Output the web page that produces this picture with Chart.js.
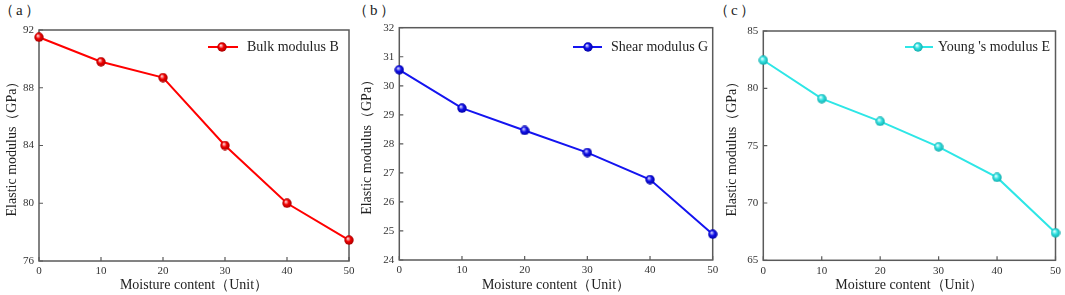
<!DOCTYPE html>
<html>
<head>
<meta charset="utf-8">
<script src="https://cdn.jsdelivr.net/npm/chart.js@4/dist/chart.umd.min.js"></script>
<style>
  body { margin: 0; background: #fff; width: 1065px; height: 295px; overflow: hidden; position: relative; font-family: "Liberation Serif", "Times New Roman", serif; }
  canvas { position: absolute; top: 0; }
  .tag { position: absolute; top: 1px; font-size: 15px; line-height: 18px; color: #222; letter-spacing: 2px; }
</style>
</head>
<body>
<div class="tag" style="left:-1px">（a）</div>
<div class="tag" style="left:353px">（b）</div>
<div class="tag" style="left:714px">（c）</div>
<canvas id="chartA" width="360" height="295" style="left:0px"></canvas>
<canvas id="chartB" width="368" height="295" style="left:355px"></canvas>
<canvas id="chartC" width="345" height="295" style="left:720px"></canvas>
<script>
// Data
const moisture = [0, 10, 20, 30, 40, 50];
const bulkB = [91.5, 89.8, 88.7, 84.0, 80.0, 77.45];
const shearG = [30.55, 29.23, 28.46, 27.7, 26.77, 24.89];
const youngE = [82.45, 79.1, 77.12, 74.9, 72.23, 67.4];

const xTitle = "Moisture content（Unit）";
const yTitle = "Elastic modulus（GPa）";

const SERIF = "'Liberation Serif', 'Times New Roman', serif";
const AXIS = "#5a5a5a";

// shaded ball used for markers
const sphere = (light, base, dark) => {
  const c = document.createElement("canvas");
  c.width = 10;
  c.height = 10;
  const g = c.getContext("2d");
  const grad = g.createRadialGradient(3.8, 3.4, 0.4, 5, 5, 5);
  grad.addColorStop(0, light);
  grad.addColorStop(0.45, base);
  grad.addColorStop(1, dark);
  g.fillStyle = grad;
  g.beginPath();
  g.arc(5, 5, 4.7, 0, Math.PI * 2);
  g.fill();
  return c;
};

// box around the plot, inward ticks, and the little legend
const framePlugin = {
  id: "frame",
  beforeDatasetsDraw(chart) {
    const { ctx, chartArea: a, scales } = chart;
    ctx.save();
    ctx.strokeStyle = AXIS;
    ctx.lineWidth = 1.5;
    ctx.strokeRect(a.left, a.top, a.right - a.left, a.bottom - a.top);
    ctx.lineWidth = 1.2;
    ctx.beginPath();
    scales.x.ticks.forEach((t) => {
      const px = scales.x.getPixelForValue(t.value);
      ctx.moveTo(px, a.bottom);
      ctx.lineTo(px, a.bottom - 4);
    });
    scales.y.ticks.forEach((t) => {
      const py = scales.y.getPixelForValue(t.value);
      ctx.moveTo(a.left, py);
      ctx.lineTo(a.left + 4, py);
    });
    ctx.stroke();
    ctx.restore();
  },
  afterDraw(chart, args, opts) {
    const ds = chart.data.datasets[0];
    const { ctx } = chart;
    ctx.save();
    ctx.strokeStyle = ds.borderColor;
    ctx.lineWidth = 2;
    ctx.beginPath();
    ctx.moveTo(opts.x0, opts.y);
    ctx.lineTo(opts.x1, opts.y);
    ctx.stroke();
    const img = ds.pointStyle;
    ctx.drawImage(img, opts.mx - img.width / 2, opts.y - img.height / 2);
    ctx.fillStyle = "#222";
    ctx.font = "14px " + SERIF;
    ctx.textBaseline = "middle";
    ctx.textAlign = "left";
    ctx.fillText(ds.label, opts.tx, opts.y);
    ctx.restore();
  },
};

const makePanel = (id, label, values, color, marker, yMin, yMax, yStep, geo) => {
  const ctx = document.getElementById(id).getContext("2d");
  new Chart(ctx, {
    type: "line",
    data: {
      datasets: [
        {
          label: label,
          data: moisture.map((m, i) => ({ x: m, y: values[i] })),
          borderColor: color,
          borderWidth: 2,
          tension: 0,
          pointStyle: marker,
          pointRadius: 5,
          pointHoverRadius: 5,
          clip: false,
        },
      ],
    },
    options: {
      responsive: false,
      animation: false,
      events: [],
      layout: { padding: { left: 0, top: geo.top, right: geo.padR, bottom: 0 } },
      plugins: {
        legend: { display: false },
        tooltip: { enabled: false },
        frame: geo.key,
      },
      scales: {
        x: {
          type: "linear",
          min: 0,
          max: 50,
          grid: { display: false, drawTicks: false },
          border: { display: false },
          ticks: { stepSize: 10, padding: 4, color: "#333", font: { family: SERIF, size: 11 } },
          title: {
            display: true,
            text: xTitle,
            color: "#222",
            font: { family: SERIF, size: 14 },
            padding: { top: 0, bottom: 1 },
          },
          afterFit: (s) => { s.height = 295 - geo.bottom; },
        },
        y: {
          min: yMin,
          max: yMax,
          grid: { display: false, drawTicks: false },
          border: { display: false },
          ticks: { stepSize: yStep, padding: 5, color: "#333", font: { family: SERIF, size: 11 } },
          title: {
            display: true,
            text: yTitle,
            color: "#222",
            font: { family: SERIF, size: 14 },
            padding: geo.titlePad,
          },
          afterFit: (s) => { s.width = geo.yw; },
        },
      },
    },
    plugins: [framePlugin],
  });
};

document.addEventListener("DOMContentLoaded", () => {
  makePanel("chartA", "Bulk modulus B", bulkB, "#ff0000",
    sphere("#ffd0d0", "#f00000", "#a00000"), 76, 92, 4,
    { top: 30, bottom: 261, padR: 11, yw: 39, titlePad: 4,
      key: { x0: 208, x1: 238, mx: 222, tx: 247, y: 47 } });
  makePanel("chartB", "Shear modulus G", shearG, "#1414f0",
    sphere("#d0d0ff", "#1010e8", "#0000a0"), 24, 32, 1,
    { top: 27.7, bottom: 260, padR: 10.3, yw: 44.3, titlePad: 4,
      key: { x0: 218, x1: 247, mx: 233, tx: 256, y: 47 } });
  makePanel("chartC", "Young 's modulus E", youngE, "#2ee6e6",
    sphere("#e0ffff", "#30e0e0", "#10a8a8"), 65, 85, 5,
    { top: 31, bottom: 260.3, padR: 7.7, yw: 43.3, titlePad: 3.5,
      key: { x0: 185, x1: 213, mx: 198, tx: 218, y: 47 } });
});
</script>
</body>
</html>
